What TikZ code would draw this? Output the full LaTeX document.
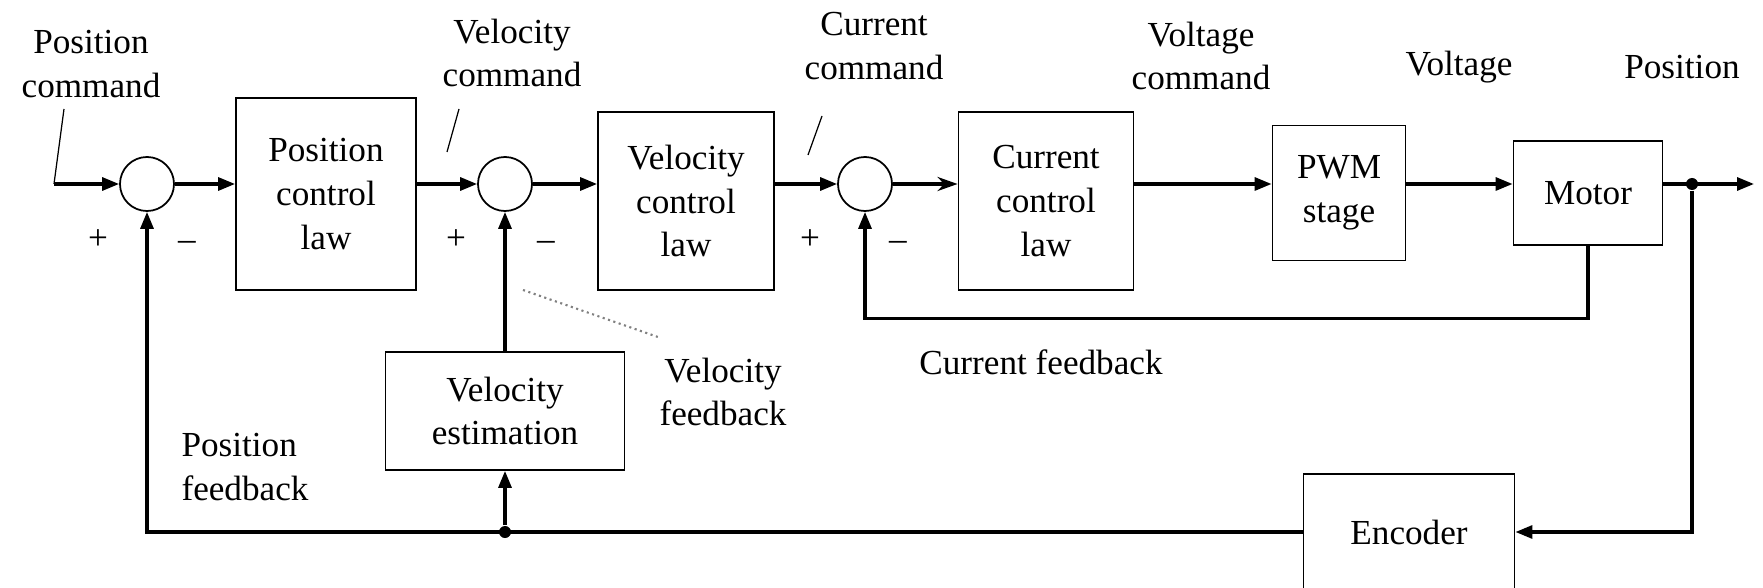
\documentclass[tikz,border=0pt]{standalone}
\usepackage{fontspec}
\setmainfont{Liberation Serif}
\usetikzlibrary{arrows.meta}

\begin{document}
\begin{tikzpicture}[x=0.01cm,y=-0.01cm,>={Triangle[length=1.7mm,width=1.3mm]}]
    \tikzstyle{every node}=[font=\fontsize{10}{12.4}\selectfont,align=center];
    \tikzstyle{block}=[draw,rectangle,line width=0.5pt,inner sep=0pt];
    \tikzstyle{sum}=[draw,circle,line width=0.5pt,minimum size=5.4mm,inner sep=0pt];
    \tikzstyle{wire}=[line width=0.9pt];
    \tikzstyle{lead}=[line width=0.35pt];
    \tikzstyle{dot}=[fill,circle,inner sep=0pt,minimum size=1.2mm];
    \useasboundingbox (0,0) rectangle (1763,588);

    \node at (147, 184)  (sum1) [sum] {};
    \node at (505, 184)  (sum2) [sum] {};
    \node at (865, 184)  (sum3) [sum] {};
    \node at (326, 194)  (pos) [block,minimum width=1.8cm,minimum height=1.92cm] {Position\\control\\law};
    \node at (686, 201)  (vel) [block,minimum width=1.76cm,minimum height=1.78cm] {Velocity\\control\\law};
    \node at (1046, 201) (cur) [block,minimum width=1.75cm,minimum height=1.78cm] {Current\\control\\law};
    \node at (1339, 193) (pwm) [block,minimum width=1.33cm,minimum height=1.35cm] {PWM\\stage};
    \node at (1588, 193) (mot) [block,minimum width=1.49cm,minimum height=1.04cm] {Motor};
    \node at (505, 411)  (est) [block,minimum width=2.39cm,minimum height=1.18cm] {Velocity\\estimation};
    \node at (1409, 532) (enc) [block,minimum width=2.11cm,minimum height=1.16cm] {Encoder};

    \node at (91, 64)    (lpc) {Position\\command};
    \node at (512, 53)   (lvc) {Velocity\\command};
    \node at (874, 46)   (lcc) {Current\\command};
    \node at (1201, 56)  (lvo) {Voltage\\command};
    \node at (1459, 67)  (lv)  {Voltage};
    \node at (1682, 67)  (lp)  {Position};
    \node at (1041, 362) (lcf) {Current feedback};
    \node at (723, 392)  (lvf) {Velocity\\feedback};
    \node at (245, 467)  (lpf) [align=left] {Position\\feedback};

    \node at (98, 240)  (p1) {+};
    \node at (187, 246) (m1) {--};
    \node at (456, 240) (p2) {+};
    \node at (546, 246) (m2) {--};
    \node at (810, 240) (p3) {+};
    \node at (898, 246) (m3) {--};

    \coordinate (in)   at (54, 184);
    \coordinate (out)  at (1754, 184);
    \coordinate (a1)   at (64, 109);
    \coordinate (a2)   at (459, 109);
    \coordinate (a3)   at (447, 152);
    \coordinate (b2)   at (822, 116);
    \coordinate (b3)   at (808, 155);
    \coordinate (c1)   at (523, 290);
    \coordinate (c2)   at (658, 337);
    \node at (1692, 184) (tap)  [dot] {};
    \node at (505, 532)  (junc) [dot] {};

    \draw[lead] (a1) to (in);
    \draw[lead] (a2) to (a3);
    \draw[lead] (b2) to (b3);
    \draw[line width=0.6pt,densely dotted,gray] (c1) to (c2);

    \draw[wire,->] (in) to (sum1);
    \draw[wire,->] (sum1) to (sum1 -| pos.west);
    \draw[wire,->] (sum1 -| pos.east) to (sum2);
    \draw[wire,->] (sum2) to (sum2 -| vel.west);
    \draw[wire,->] (sum2 -| vel.east) to (sum3);
    \draw[wire,-{Stealth[length=2mm,width=1.4mm]}] (sum3) to (sum3 -| cur.west);
    \draw[wire,->] (sum3 -| cur.east) to (sum3 -| pwm.west);
    \draw[wire,->] (sum3 -| pwm.east) to (sum3 -| mot.west);
    \draw[wire,->] (sum3 -| mot.east) to (out);
    \draw[wire,->] (mot.south) -- ++(0, 73) -| (sum3.south);
    \draw[wire,->] (tap) |- (enc.east);
    \draw[wire,->] (enc.west) -| (sum1.south);
    \draw[wire,->] (junc) to (est.south);
    \draw[wire,->] (est.north) to (sum2.south);
\end{tikzpicture}
\end{document}
